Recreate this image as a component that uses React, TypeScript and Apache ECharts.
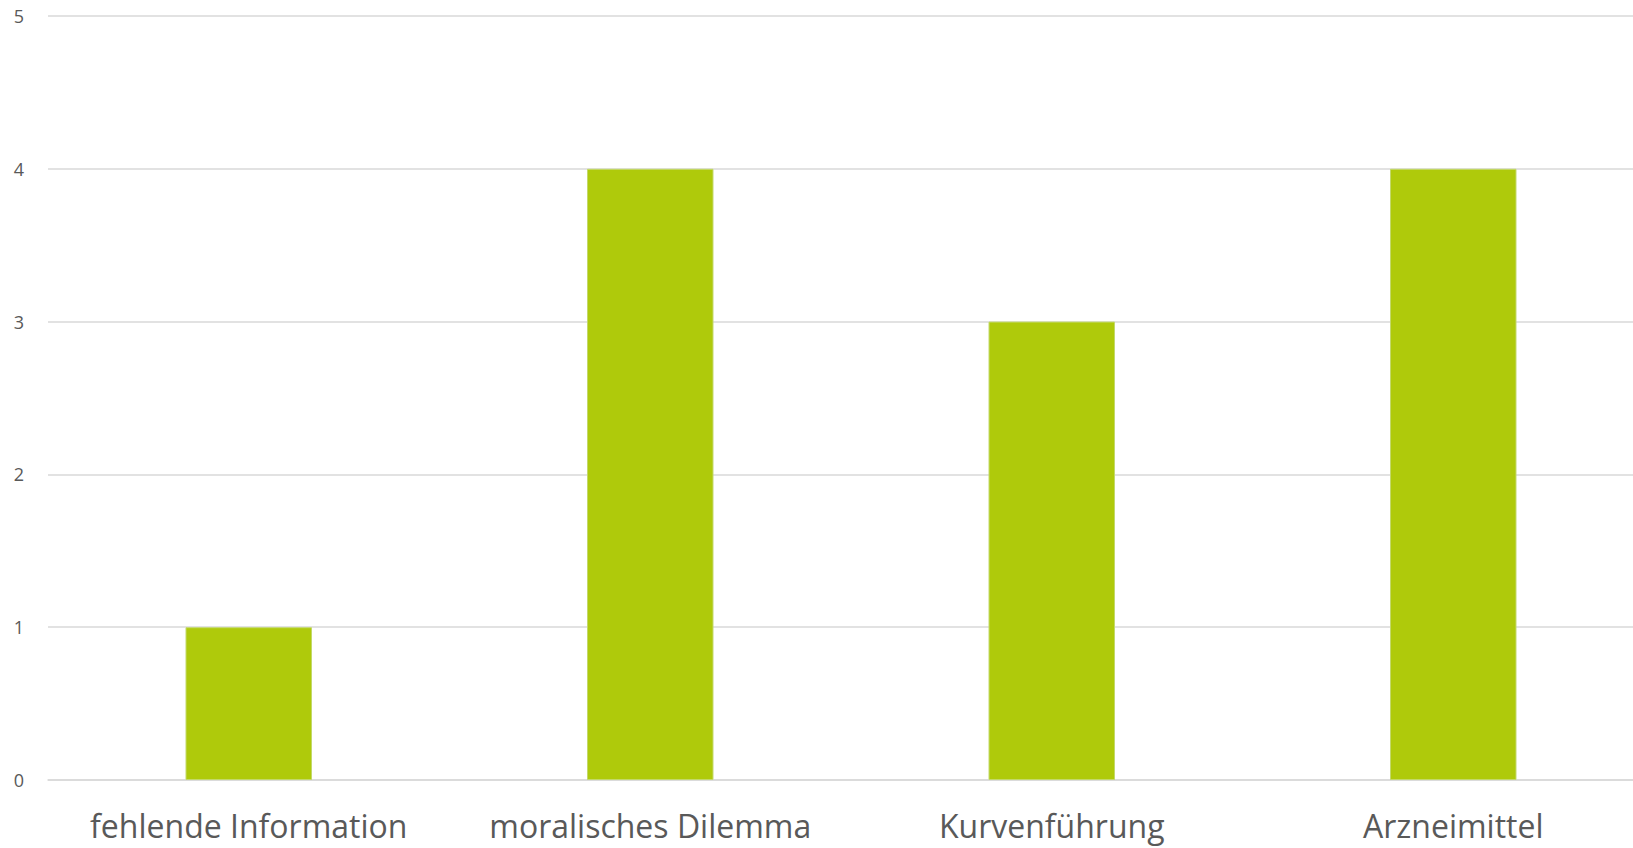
import React, { useEffect, useRef } from "react";
import * as echarts from "echarts";

const categories = ["fehlende Information", "moralisches Dilemma", "Kurvenführung", "Arzneimittel"];
const values = [1, 4, 3, 4];
const yTicks = { min: 0, max: 5, interval: 1 };

export default function App() {
  const ref = useRef<HTMLDivElement>(null);
  useEffect(() => {
    document.body.style.margin = "0";
    const chart = echarts.init(ref.current!, undefined, { renderer: "svg" });
    chart.setOption({
      animation: false,
      backgroundColor: "#ffffff",
      grid: { left: 48, right: 0, top: 16, bottom: 68, containLabel: false },
      xAxis: {
        type: "category",
        data: categories,
        axisLine: { show: true, lineStyle: { color: "#D9D9D9", width: 1.5 } },
        axisTick: { show: false },
        axisLabel: {
          color: "#595959",
          fontFamily: "Open Sans",
          fontSize: 32,
          margin: 29,
          interval: 0,
        },
      },
      yAxis: {
        type: "value",
        min: yTicks.min,
        max: yTicks.max,
        interval: yTicks.interval,
        axisLine: { show: false },
        axisTick: { show: false },
        splitLine: { lineStyle: { color: "#D9D9D9", width: 1.5 } },
        axisLabel: {
          color: "#595959",
          fontFamily: "Open Sans",
          fontSize: 18,
          margin: 24,
        },
      },
      series: [
        {
          type: "bar",
          data: values,
          barWidth: "31.5%",
          itemStyle: { color: "#AFCA0B", borderColor: "#C3D96A", borderWidth: 1 },
        },
      ],
    });
    return () => chart.dispose();
  }, []);
  return (
    <div style={{ width: 1633, height: 848, overflow: "hidden" }}>
      <div ref={ref} style={{ width: 1654, height: 848 }} />
    </div>
  );
}
